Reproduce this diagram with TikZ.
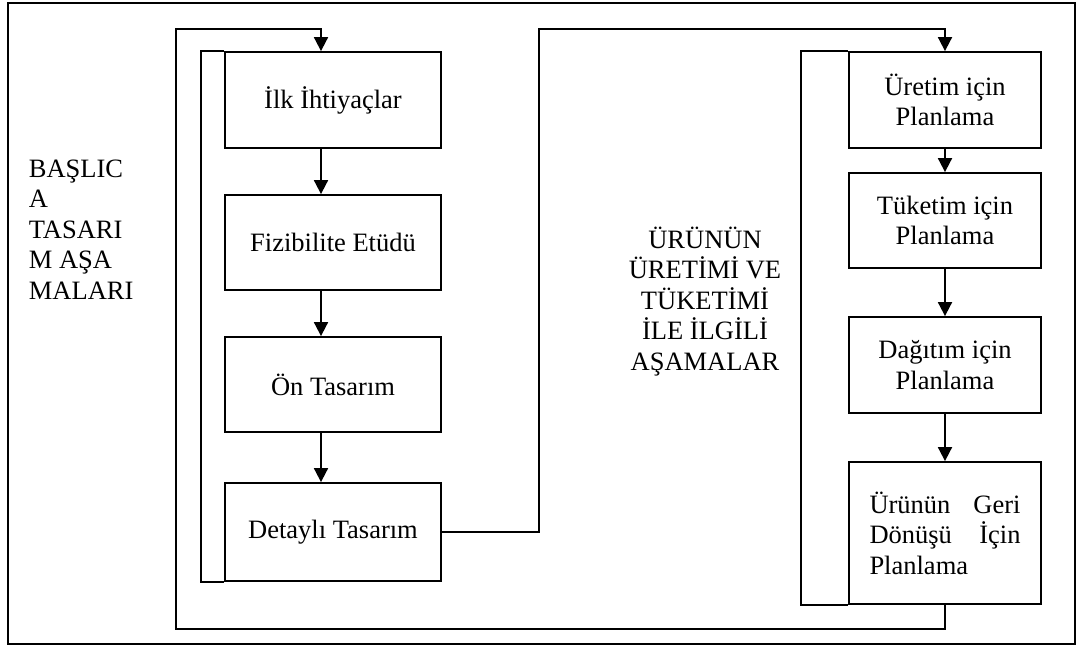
\documentclass[tikz,border=0pt]{standalone}
\usepackage{fontspec}
\setmainfont{Liberation Serif}
\usetikzlibrary{arrows.meta}
\begin{document}
\begin{tikzpicture}[x=1pt,y=-1pt,
  line width=1.8pt,
  every node/.style={font=\fontsize{26.5}{30.5}\selectfont, inner sep=0pt},
  stage/.style={draw, rectangle, minimum width=216pt, align=center},
  rstage/.style={draw, rectangle, minimum width=192pt, align=center},
  sidelabel/.style={execute at begin node=\strut, execute at end node=\strut},
  flow/.style={-{Triangle[length=14pt,width=14pt]}}]
\useasboundingbox (0,0) rectangle (1080,646);

% outer frame
\draw (8,3) rectangle (1075,644);

% reference columns for the connectors
\coordinate (lx)  at (321,0);
\coordinate (lbr) at (201,0);
\coordinate (rbr) at (801,0);

% main design stages
\node[stage, minimum height=96pt] (ilk)   at (333,100)   {İlk İhtiyaçlar};
\node[stage, minimum height=95pt] (fiz)   at (333,242.5) {Fizibilite Etüdü};
\node[stage, minimum height=95pt] (on)    at (333,384.5) {Ön Tasarım};
\node[stage, minimum height=98pt] (detay) at (333,532)   {Detaylı Tasarım};

% production and consumption stages
\node[rstage, minimum height=96pt]  (uretim)  at (945,100)   {Üretim için\\Planlama};
\node[rstage, minimum height=95pt]  (tuketim) at (945,220.5) {Tüketim için\\Planlama};
\node[rstage, minimum height=96pt]  (dagitim) at (945,365)   {Dağıtım için\\Planlama};
\node[rstage, minimum height=142pt, text width=151pt, align=left] (geri) at (945,533)
  {Ürünün\hfill Geri\\Dönüşü\hfill İçin\\Planlama};

% side labels
\node[sidelabel, anchor=north west, align=left] (baslica) at (28,158.6)
  {BAŞLIC\\A\\TASARI\\M AŞA\\MALARI};
\node[sidelabel, anchor=north, align=center] (asamalar) at (705,226)
  {ÜRÜNÜN\\ÜRETİMİ VE\\TÜKETİMİ\\İLE İLGİLİ\\AŞAMALAR};

% group brackets
\draw (ilk.north west) -- (ilk.north west -| lbr) -- (detay.south west -| lbr) -- (detay.south west);
\draw (uretim.north west) -- (uretim.north west -| rbr) -- (geri.south west -| rbr) -- (geri.south west);

% flow within the columns
\draw[flow] (ilk.south -| lx) -- (fiz.north -| lx);
\draw[flow] (fiz.south -| lx) -- (on.north -| lx);
\draw[flow] (on.south -| lx) -- (detay.north -| lx);
\draw[flow] (uretim.south) -- (tuketim.north);
\draw[flow] (tuketim.south) -- (dagitim.north);
\draw[flow] (dagitim.south) -- (geri.north);

% link from design to production
\coordinate (upper) at (539,29);
\draw[flow] (detay.east) -| (upper) -| (uretim.north);

% feedback loop
\coordinate (loopbl) at (176,629);
\coordinate (looptl) at (176,29);
\draw[flow] (geri.south) |- (loopbl) -- (looptl) -| (ilk.north -| lx);
\end{tikzpicture}
\end{document}
